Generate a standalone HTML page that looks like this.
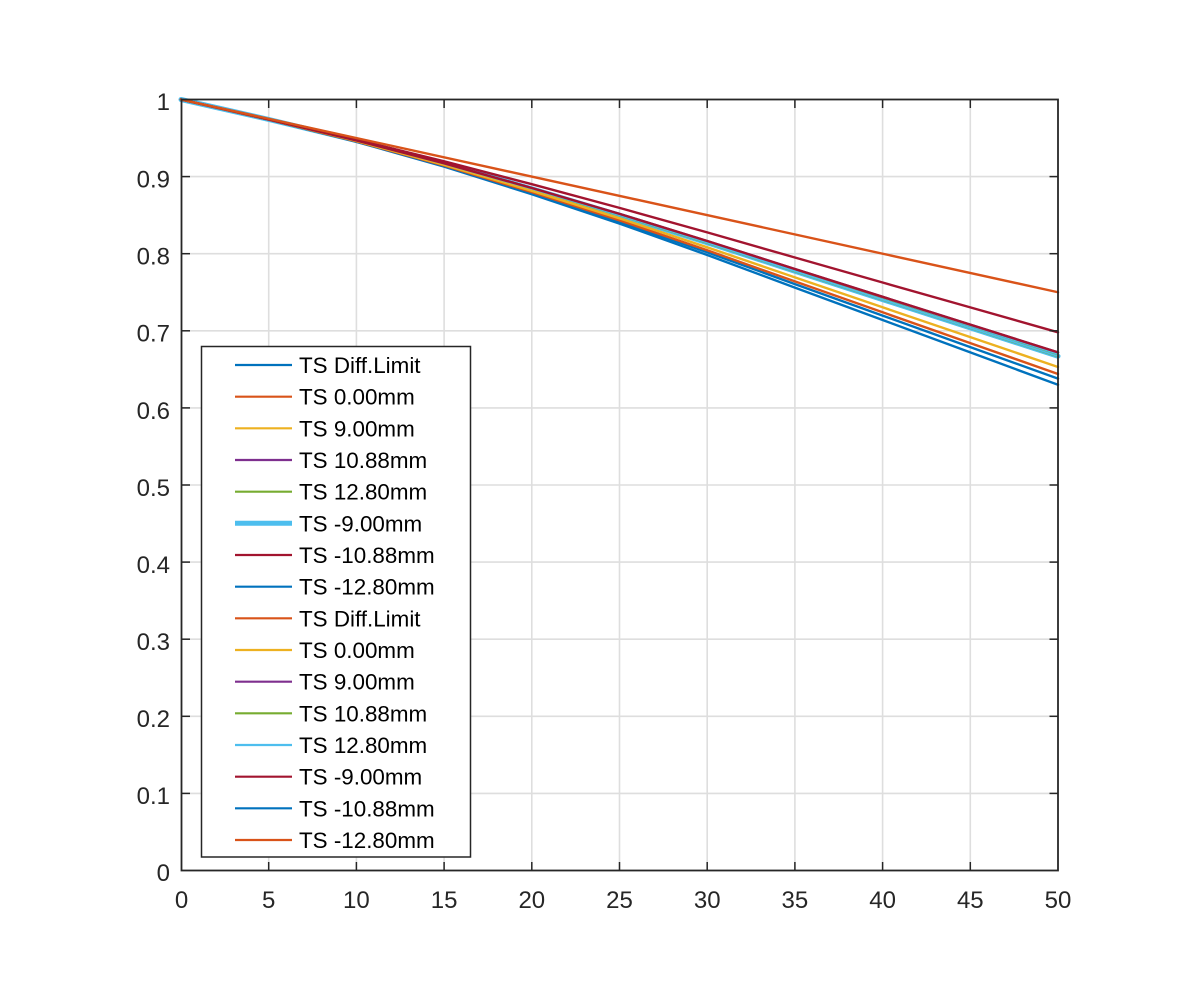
<!DOCTYPE html>
<html>
<head>
<meta charset="utf-8">
<style>
html,body{margin:0;padding:0;background:#fff;}
svg{display:block;}
text{font-family:"Liberation Sans",Arial,sans-serif;}
</style>
</head>
<body>
<svg width="1200" height="1004" viewBox="0 0 1200 1004" xmlns="http://www.w3.org/2000/svg">
<rect x="0" y="0" width="1200" height="1004" fill="#fff"/>
<!-- grid -->
<g stroke="#dedede" stroke-width="1.6" fill="none">
<line x1="268.7" y1="99.5" x2="268.7" y2="870.5"/>
<line x1="356.4" y1="99.5" x2="356.4" y2="870.5"/>
<line x1="444.1" y1="99.5" x2="444.1" y2="870.5"/>
<line x1="531.8" y1="99.5" x2="531.8" y2="870.5"/>
<line x1="619.5" y1="99.5" x2="619.5" y2="870.5"/>
<line x1="707.2" y1="99.5" x2="707.2" y2="870.5"/>
<line x1="794.9" y1="99.5" x2="794.9" y2="870.5"/>
<line x1="882.6" y1="99.5" x2="882.6" y2="870.5"/>
<line x1="970.3" y1="99.5" x2="970.3" y2="870.5"/>
<line x1="181.5" y1="793.4" x2="1058" y2="793.4"/>
<line x1="181.5" y1="716.3" x2="1058" y2="716.3"/>
<line x1="181.5" y1="639.2" x2="1058" y2="639.2"/>
<line x1="181.5" y1="562.1" x2="1058" y2="562.1"/>
<line x1="181.5" y1="485.0" x2="1058" y2="485.0"/>
<line x1="181.5" y1="407.9" x2="1058" y2="407.9"/>
<line x1="181.5" y1="330.8" x2="1058" y2="330.8"/>
<line x1="181.5" y1="253.7" x2="1058" y2="253.7"/>
<line x1="181.5" y1="176.6" x2="1058" y2="176.6"/>
</g>
<!-- series -->
<g fill="none" stroke-width="2.4" stroke-linejoin="round" stroke-linecap="round">
<polyline stroke="#4DBEEE" stroke-width="5" points="181,99.5 268.7,119.4 356.4,140.6 444.1,163.7 531.8,188.8 619.5,215.1 707.2,242.7 794.9,271.2 882.6,299.6 970.3,327.9 1058,356.2"/>
<polyline stroke="#77AC30" points="181,99.5 268.7,119.4 356.4,140.6 444.1,163.7 531.8,188.8 619.5,215.1 707.2,242.7 794.9,271.2 882.6,299.6 970.3,327.9 1058,356.2"/>
<polyline stroke="#7E2F8E" points="181,99.5 268.7,119.4 356.4,140.5 444.1,163.3 531.8,188.0 619.5,213.9 707.2,241.0 794.9,269.0 882.6,296.8 970.3,324.6 1058,352.4"/>
<polyline stroke="#0072BD" points="181,99.5 268.7,119.7 356.4,141.8 444.1,166.6 531.8,194.2 619.5,223.6 707.2,255.0 794.9,287.6 882.6,320.0 970.3,352.4 1058,384.8"/>
<polyline stroke="#0072BD" points="181,99.5 268.7,119.6 356.4,141.5 444.1,166.0 531.8,193.0 619.5,221.8 707.2,252.3 794.9,284.1 882.6,315.6 970.3,347.1 1058,378.6"/>
<polyline stroke="#D95319" points="181,99.5 268.7,119.6 356.4,141.3 444.1,165.5 531.8,192.1 619.5,220.4 707.2,250.3 794.9,281.4 882.6,312.3 970.3,343.1 1058,374.0"/>
<polyline stroke="#EDB120" points="181,99.5 268.7,119.5 356.4,141.0 444.1,164.8 531.8,190.8 619.5,218.3 707.2,247.3 794.9,277.4 882.6,307.3 970.3,337.1 1058,367.0"/>
<polyline stroke="#4DBEEE" stroke-width="1.8" points="181,99.5 268.7,119.4 356.4,140.6 444.1,163.7 531.8,188.8 619.5,215.1 707.2,242.7 794.9,271.2 882.6,299.6 970.3,327.9 1058,356.2"/>
<polyline stroke="#A2142F" points="181,99.5 268.7,119.4 356.4,140.5 444.1,163.3 531.8,188.0 619.5,213.9 707.2,241.0 794.9,269.0 882.6,296.8 970.3,324.6 1058,352.4"/>
<polyline stroke="#A2142F" points="181,99.5 268.7,119.2 356.4,139.7 444.1,161.3 531.8,184.2 619.5,207.9 707.2,232.4 794.9,257.5 882.6,282.5 970.3,307.4 1058,332.3"/>
<polyline stroke="#D95319" points="181,99.5 1058,292.25"/>
</g>
<!-- axes box -->
<rect x="181.5" y="99.5" width="876.5" height="771" fill="none" stroke="#262626" stroke-width="1.8"/>
<!-- ticks -->
<g stroke="#262626" stroke-width="1.5">
<line x1="268.7" y1="870.5" x2="268.7" y2="862"/><line x1="356.4" y1="870.5" x2="356.4" y2="862"/><line x1="444.1" y1="870.5" x2="444.1" y2="862"/><line x1="531.8" y1="870.5" x2="531.8" y2="862"/><line x1="619.5" y1="870.5" x2="619.5" y2="862"/><line x1="707.2" y1="870.5" x2="707.2" y2="862"/><line x1="794.9" y1="870.5" x2="794.9" y2="862"/><line x1="882.6" y1="870.5" x2="882.6" y2="862"/><line x1="970.3" y1="870.5" x2="970.3" y2="862"/>
<line x1="268.7" y1="99.5" x2="268.7" y2="108"/><line x1="356.4" y1="99.5" x2="356.4" y2="108"/><line x1="444.1" y1="99.5" x2="444.1" y2="108"/><line x1="531.8" y1="99.5" x2="531.8" y2="108"/><line x1="619.5" y1="99.5" x2="619.5" y2="108"/><line x1="707.2" y1="99.5" x2="707.2" y2="108"/><line x1="794.9" y1="99.5" x2="794.9" y2="108"/><line x1="882.6" y1="99.5" x2="882.6" y2="108"/><line x1="970.3" y1="99.5" x2="970.3" y2="108"/>
<line x1="181.5" y1="793.4" x2="190" y2="793.4"/><line x1="181.5" y1="716.3" x2="190" y2="716.3"/><line x1="181.5" y1="639.2" x2="190" y2="639.2"/><line x1="181.5" y1="562.1" x2="190" y2="562.1"/><line x1="181.5" y1="485.0" x2="190" y2="485.0"/><line x1="181.5" y1="407.9" x2="190" y2="407.9"/><line x1="181.5" y1="330.8" x2="190" y2="330.8"/><line x1="181.5" y1="253.7" x2="190" y2="253.7"/><line x1="181.5" y1="176.6" x2="190" y2="176.6"/>
<line x1="1058" y1="793.4" x2="1049.5" y2="793.4"/><line x1="1058" y1="716.3" x2="1049.5" y2="716.3"/><line x1="1058" y1="639.2" x2="1049.5" y2="639.2"/><line x1="1058" y1="562.1" x2="1049.5" y2="562.1"/><line x1="1058" y1="485.0" x2="1049.5" y2="485.0"/><line x1="1058" y1="407.9" x2="1049.5" y2="407.9"/><line x1="1058" y1="330.8" x2="1049.5" y2="330.8"/><line x1="1058" y1="253.7" x2="1049.5" y2="253.7"/><line x1="1058" y1="176.6" x2="1049.5" y2="176.6"/>
</g>
<!-- y tick labels -->
<g font-size="24" fill="#262626" text-anchor="end">
<text x="170" y="881">0</text>
<text x="170" y="804">0.1</text>
<text x="170" y="727">0.2</text>
<text x="170" y="650">0.3</text>
<text x="170" y="573">0.4</text>
<text x="170" y="496">0.5</text>
<text x="170" y="419">0.6</text>
<text x="170" y="341.5">0.7</text>
<text x="170" y="264.5">0.8</text>
<text x="170" y="187.5">0.9</text>
<text x="170" y="110">1</text>
</g>
<!-- x tick labels -->
<g font-size="24" fill="#262626" text-anchor="middle">
<text x="181.5" y="908">0</text>
<text x="268.7" y="908">5</text>
<text x="356.4" y="908">10</text>
<text x="444.1" y="908">15</text>
<text x="531.8" y="908">20</text>
<text x="619.5" y="908">25</text>
<text x="707.2" y="908">30</text>
<text x="794.9" y="908">35</text>
<text x="882.6" y="908">40</text>
<text x="970.3" y="908">45</text>
<text x="1058" y="908">50</text>
</g>
<!-- legend -->
<rect x="201.5" y="346.5" width="269" height="510.5" fill="#fff" stroke="#262626" stroke-width="1.5"/>
<g stroke-width="2.2">
<line x1="235" y1="365" x2="292" y2="365" stroke="#0072BD"/>
<line x1="235" y1="396.7" x2="292" y2="396.7" stroke="#D95319"/>
<line x1="235" y1="428.3" x2="292" y2="428.3" stroke="#EDB120"/>
<line x1="235" y1="460" x2="292" y2="460" stroke="#7E2F8E"/>
<line x1="235" y1="491.7" x2="292" y2="491.7" stroke="#77AC30"/>
<line x1="235" y1="523.3" x2="292" y2="523.3" stroke="#4DBEEE" stroke-width="5"/>
<line x1="235" y1="555" x2="292" y2="555" stroke="#A2142F"/>
<line x1="235" y1="586.7" x2="292" y2="586.7" stroke="#0072BD"/>
<line x1="235" y1="618.3" x2="292" y2="618.3" stroke="#D95319"/>
<line x1="235" y1="650" x2="292" y2="650" stroke="#EDB120"/>
<line x1="235" y1="681.7" x2="292" y2="681.7" stroke="#7E2F8E"/>
<line x1="235" y1="713.3" x2="292" y2="713.3" stroke="#77AC30"/>
<line x1="235" y1="745" x2="292" y2="745" stroke="#4DBEEE"/>
<line x1="235" y1="776.7" x2="292" y2="776.7" stroke="#A2142F"/>
<line x1="235" y1="808.3" x2="292" y2="808.3" stroke="#0072BD"/>
<line x1="235" y1="840" x2="292" y2="840" stroke="#D95319"/>
</g>
<g font-size="22.4" fill="#000">
<text x="299" y="373">TS Diff.Limit</text>
<text x="299" y="404.7">TS 0.00mm</text>
<text x="299" y="436.3">TS 9.00mm</text>
<text x="299" y="468">TS 10.88mm</text>
<text x="299" y="499.7">TS 12.80mm</text>
<text x="299" y="531.3">TS -9.00mm</text>
<text x="299" y="563">TS -10.88mm</text>
<text x="299" y="594.7">TS -12.80mm</text>
<text x="299" y="626.3">TS Diff.Limit</text>
<text x="299" y="658">TS 0.00mm</text>
<text x="299" y="689.7">TS 9.00mm</text>
<text x="299" y="721.3">TS 10.88mm</text>
<text x="299" y="753">TS 12.80mm</text>
<text x="299" y="784.7">TS -9.00mm</text>
<text x="299" y="816.3">TS -10.88mm</text>
<text x="299" y="848">TS -12.80mm</text>
</g>
</svg>
</body>
</html>
